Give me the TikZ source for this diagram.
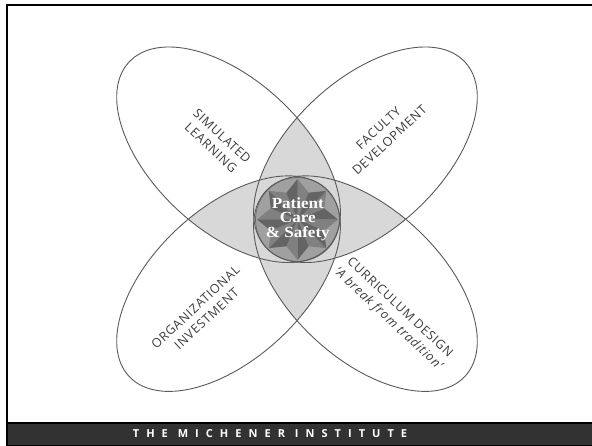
\documentclass[tikz,border=0pt]{standalone}
\usepackage{fontspec}
\setmainfont{Liberation Serif}
\newfontfamily\labfont[LetterSpace=6]{Open Sans}
\newfontfamily\ctrfont[FakeStretch=1.1]{Liberation Serif}
\newfontfamily\barfont[LetterSpace=64]{Open Sans}
\definecolor{lensgray}{RGB}{216,216,216}
\definecolor{petalline}{RGB}{90,90,90}
\definecolor{ringgray}{RGB}{160,160,160}
\definecolor{starlight}{RGB}{128,128,128}
\definecolor{stardark}{RGB}{100,100,100}
\definecolor{ringline}{RGB}{105,105,105}
\definecolor{labgray}{RGB}{60,60,60}
\definecolor{barfill}{RGB}{50,50,50}
\begin{document}
\begin{tikzpicture}[x=1pt,y=-1pt,
  elSL/.style={shift={(228.55,154.76)},rotate=-43},
  elFD/.style={shift={(365.45,154.76)},rotate=43},
  elOI/.style={shift={(228.55,283.64)},rotate=43},
  elCD/.style={shift={(365.45,283.64)},rotate=-43},
  petal/.style={draw=petalline, line width=0.9pt},
  lab/.style={font=\labfont\fontsize{12.5}{16.2}\selectfont, text=labgray, align=center, inner sep=0pt},
  ctr/.style={font=\ctrfont\bfseries\fontsize{15.5}{14.5}\selectfont, text=white, align=center, inner sep=0pt},
  bartext/.style={font=\barfont\bfseries\fontsize{11}{13}\selectfont, text=white, inner sep=0pt}
]
\useasboundingbox (0,0) rectangle (592,446);
\fill[white] (0,0) rectangle (592,446);
% pairwise overlaps
\begin{scope}\clip[elSL] (0,0) ellipse [x radius=136,y radius=75]; \fill[lensgray,elFD] (0,0) ellipse [x radius=136,y radius=75];\end{scope}
\begin{scope}\clip[elSL] (0,0) ellipse [x radius=136,y radius=75]; \fill[lensgray,elOI] (0,0) ellipse [x radius=136,y radius=75];\end{scope}
\begin{scope}\clip[elSL] (0,0) ellipse [x radius=136,y radius=75]; \fill[lensgray,elCD] (0,0) ellipse [x radius=136,y radius=75];\end{scope}
\begin{scope}\clip[elFD] (0,0) ellipse [x radius=136,y radius=75]; \fill[lensgray,elOI] (0,0) ellipse [x radius=136,y radius=75];\end{scope}
\begin{scope}\clip[elFD] (0,0) ellipse [x radius=136,y radius=75]; \fill[lensgray,elCD] (0,0) ellipse [x radius=136,y radius=75];\end{scope}
\begin{scope}\clip[elOI] (0,0) ellipse [x radius=136,y radius=75]; \fill[lensgray,elCD] (0,0) ellipse [x radius=136,y radius=75];\end{scope}
% centre disc and star
\fill[ringgray] (297.5,219.5) circle [radius=42];
\begin{scope}[shift={(297.5,219.5)}]
\foreach \k in {0,...,7}{
  \fill[starlight] (0,0) -- ({45*\k}:40.5) -- ({45*\k+22.5}:29) -- cycle;
  \fill[stardark] (0,0) -- ({45*\k}:40.5) -- ({45*\k-22.5}:29) -- cycle;
}
\end{scope}
\draw[ringline, line width=0.8pt] (297.5,219.5) circle [radius=42];
% petal outlines
\draw[petal, elSL] (0,0) ellipse [x radius=136,y radius=75];
\draw[petal, elFD] (0,0) ellipse [x radius=136,y radius=75];
\draw[petal, elOI] (0,0) ellipse [x radius=136,y radius=75];
\draw[petal, elCD] (0,0) ellipse [x radius=136,y radius=75];
% texts
\node[ctr] (pcs) at (297.8,219) {Patient\\Care\\\&~Safety};
\node[lab, rotate=-43] (sl) at (216.6,141.9) {SIMULATED\\LEARNING};
\node[lab, rotate=43] (fd) at (384,134) {FACULTY\\DEVELOPMENT};
\node[lab, rotate=43] (oi) at (201,313) {ORGANIZATIONAL\\INVESTMENT};
\node[lab, rotate=-43] (cd) at (394,314) {CURRICULUM DESIGN\\\textit{‘A break from tradition’}};
% frame and footer bar
\fill[barfill] (7,423) rectangle (592,446);
\draw[black, line width=1.5pt] (7,423) -- (592,423);
\draw[black, line width=1.5pt] (7,445.3) -- (592,445.3);
\draw[black, line width=2pt] (7,446) -- (7,5) -- (592,5);
\node[bartext] (bar) at (270,433.7) {THE MICHENER INSTITUTE};
\end{tikzpicture}
\end{document}
